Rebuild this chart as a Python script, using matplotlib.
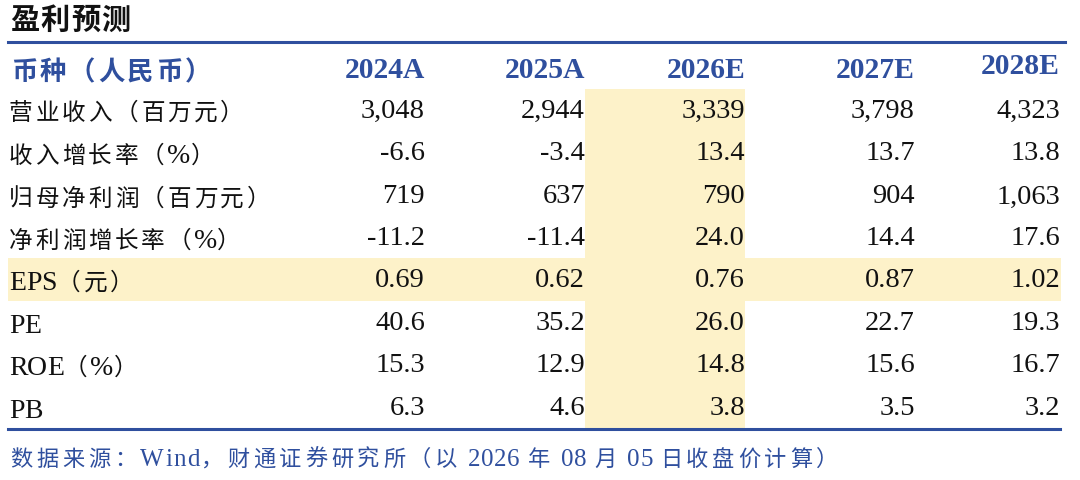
import matplotlib.pyplot as plt
from matplotlib.patches import Rectangle
from matplotlib import font_manager as fm
from matplotlib.ft2font import FT2Font

plt.rcParams['font.family'] = ['Liberation Serif', 'Noto Sans CJK SC']

# Table data
title = "盈利预测"
header_label = "币种（人民币）"
years = ["2024A", "2025A", "2026E", "2027E", "2028E"]
row_labels = ["营业收入（百万元）", "收入增长率（%）", "归母净利润（百万元）", "净利润增长率（%）",
              "EPS（元）", "PE", "ROE（%）", "PB"]
values = [
    ["3,048", "2,944", "3,339", "3,798", "4,323"],
    ["-6.6", "-3.4", "13.4", "13.7", "13.8"],
    ["719", "637", "790", "904", "1,063"],
    ["-11.2", "-11.4", "24.0", "14.4", "17.6"],
    ["0.69", "0.62", "0.76", "0.87", "1.02"],
    ["40.6", "35.2", "26.0", "22.7", "19.3"],
    ["15.3", "12.9", "14.8", "15.6", "16.7"],
    ["6.3", "4.6", "3.8", "3.5", "3.2"],
]
source = "数据来源：Wind，财通证券研究所（以 2026 年 08 月 05 日收盘价计算）"

blue = "#2f4f9e"
hl = "#fdf2c9"
DPI = 100

fonts = {}
for w in ["normal", "bold"]:
    fonts[w] = (FT2Font(fm.findfont(fm.FontProperties(family="Liberation Serif", weight=w)), hinting_factor=1),
                FT2Font(fm.findfont(fm.FontProperties(family="Noto Sans CJK SC", weight=w)), hinting_factor=1))


def spaced_text(ax, x, y, s, size, tracking, lsize=None, ltrack=0.0, weight="normal", **kw):
    """Draw text char by char: CJK glyphs get extra spacing, latin runs keep their own size."""
    serif, cjk = fonts[weight]
    lsize = lsize or size
    cx = x
    for ch in s:
        latin = bool(serif.get_char_index(ord(ch)))
        sz, tr = (lsize, ltrack) if latin else (size, tracking)
        ft = serif if latin else cjk
        ft.set_size(sz, DPI)
        adv = ft.load_char(ord(ch)).horiAdvance / 64
        if ch != " ":
            ax.text(cx, y, ch, fontsize=sz, fontweight=weight, ha="left", va="baseline", **kw)
        cx += adv + tr


fig = plt.figure(figsize=(10.8, 4.81), dpi=DPI)
ax = fig.add_axes([0, 0, 1, 1])
ax.set_xlim(0, 1080)
ax.set_ylim(481, 0)
ax.axis("off")

col_right = [425, 585, 745, 915, 1060]
row_y = [111, 154, 197, 239, 281, 324, 366, 409]

# highlights
ax.add_patch(Rectangle((585, 90), 160, 339, color=hl, lw=0, zorder=0))
ax.add_patch(Rectangle((8, 259), 1053, 43, color=hl, lw=0, zorder=0))

# lines
ax.plot([8, 1065], [43, 43], color=blue, lw=2.2)
ax.plot([8, 1060], [430, 430], color=blue, lw=2.2)

spaced_text(ax, 10, 29, title, 21, 1.5, weight="bold", color="#111111")

spaced_text(ax, 11, 80, header_label, 19, 3.0, weight="bold", color=blue)
for i, yr in enumerate(years):
    y = 66 if i == 4 else 70
    ax.text(col_right[i], y, yr, fontsize=21.3, fontweight="bold", va="center", ha="right", color=blue)

for r, lab in enumerate(row_labels):
    spaced_text(ax, 9, row_y[r] + 9, lab, 17, 2.4, lsize=20, color="#111111")
    for c, v in enumerate(values[r]):
        ax.text(col_right[c], row_y[r], v, fontsize=20.5, va="center", ha="right", color="#111111")

spaced_text(ax, 10, 466, source, 16, 4.0, lsize=18, ltrack=1.0, color=blue)

fig.savefig("out.png", dpi=DPI)
